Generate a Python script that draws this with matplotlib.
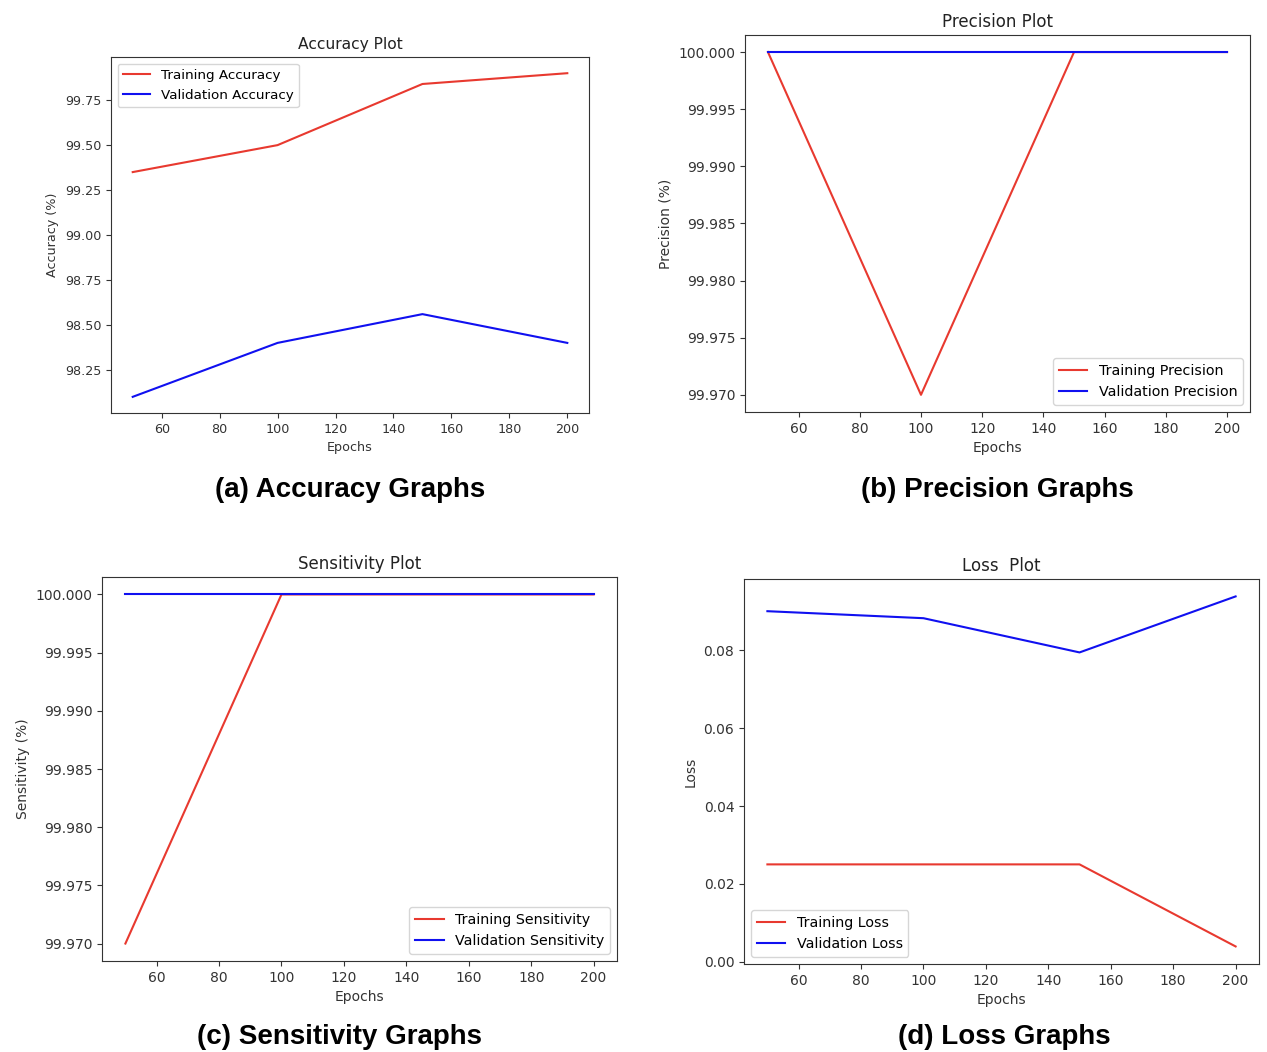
import matplotlib
matplotlib.use("Agg")
import matplotlib.pyplot as plt
from matplotlib.ticker import MultipleLocator, FormatStrFormatter

epochs = [50, 100, 150, 200]

acc_train = [99.35, 99.50, 99.84, 99.90]
acc_val = [98.10, 98.40, 98.56, 98.40]

prec_train = [100.0, 99.97, 100.0, 100.0]
prec_val = [100.0, 100.0, 100.0, 100.0]

sens_train = [99.97, 100.0, 100.0, 100.0]
sens_val = [100.0, 100.0, 100.0, 100.0]

loss_train = [0.025, 0.025, 0.025, 0.0039]
loss_val = [0.0901, 0.0883, 0.0795, 0.0939]

RED = "#e8392f"
BLUE = "#1010f0"

fig = plt.figure(figsize=(12.67, 10.52), dpi=100)

specs = [
    dict(rect=[0.0876, 0.6074, 0.3773, 0.3384], title="Accuracy Plot", ylabel="Accuracy (%)",
         train=acc_train, val=acc_val, labels=("Training Accuracy", "Validation Accuracy"),
         loc="upper left", step=0.25, fmt="%.2f", fs=9.2, lfs=9.7),
    dict(rect=[0.5880, 0.6084, 0.3986, 0.3584], title="Precision Plot", ylabel="Precision (%)",
         train=prec_train, val=prec_val, labels=("Training Precision", "Validation Precision"),
         loc="lower right", step=0.005, fmt="%.3f", fs=10, lfs=10.25),
    dict(rect=[0.0805, 0.0865, 0.4065, 0.3650], title="Sensitivity Plot", ylabel="Sensitivity (%)",
         train=sens_train, val=sens_val, labels=("Training Sensitivity", "Validation Sensitivity"),
         loc="lower right", step=0.005, fmt="%.3f", fs=10, lfs=10.25),
    dict(rect=[0.5872, 0.0837, 0.4065, 0.3660], title="Loss  Plot", ylabel="Loss",
         train=loss_train, val=loss_val, labels=("Training Loss", "Validation Loss"),
         loc="lower left", step=0.02, fmt="%.2f", fs=10, lfs=10.25),
]

for s in specs:
    ax = fig.add_axes(s["rect"])
    ax.plot(epochs, s["train"], color=RED, lw=1.5, label=s["labels"][0])
    ax.plot(epochs, s["val"], color=BLUE, lw=1.5, label=s["labels"][1])
    ax.set_title(s["title"], fontsize=s["fs"] + 2, color="#222222")
    ax.set_xlabel("Epochs", fontsize=s["fs"], color="#333333")
    ax.set_ylabel(s["ylabel"], fontsize=s["fs"], color="#333333")
    ax.yaxis.set_major_locator(MultipleLocator(s["step"]))
    ax.yaxis.set_major_formatter(FormatStrFormatter(s["fmt"]))
    ax.xaxis.set_major_locator(MultipleLocator(20))
    ax.tick_params(labelsize=s["fs"], colors="#333333")
    for sp in ax.spines.values():
        sp.set_color("#333333")
    ax.legend(loc=s["loc"], fontsize=s["lfs"])

cap = dict(fontsize=20, fontweight="bold", family="Liberation Sans", ha="center", va="center")
fig.text(0.276, 0.534, "(a) Accuracy Graphs", **cap)
fig.text(0.787, 0.534, "(b) Precision Graphs", **cap)
fig.text(0.268, 0.014, "(c) Sensitivity Graphs", **cap)
fig.text(0.793, 0.014, "(d) Loss Graphs", **cap)

fig.savefig("out.png", dpi=100)
